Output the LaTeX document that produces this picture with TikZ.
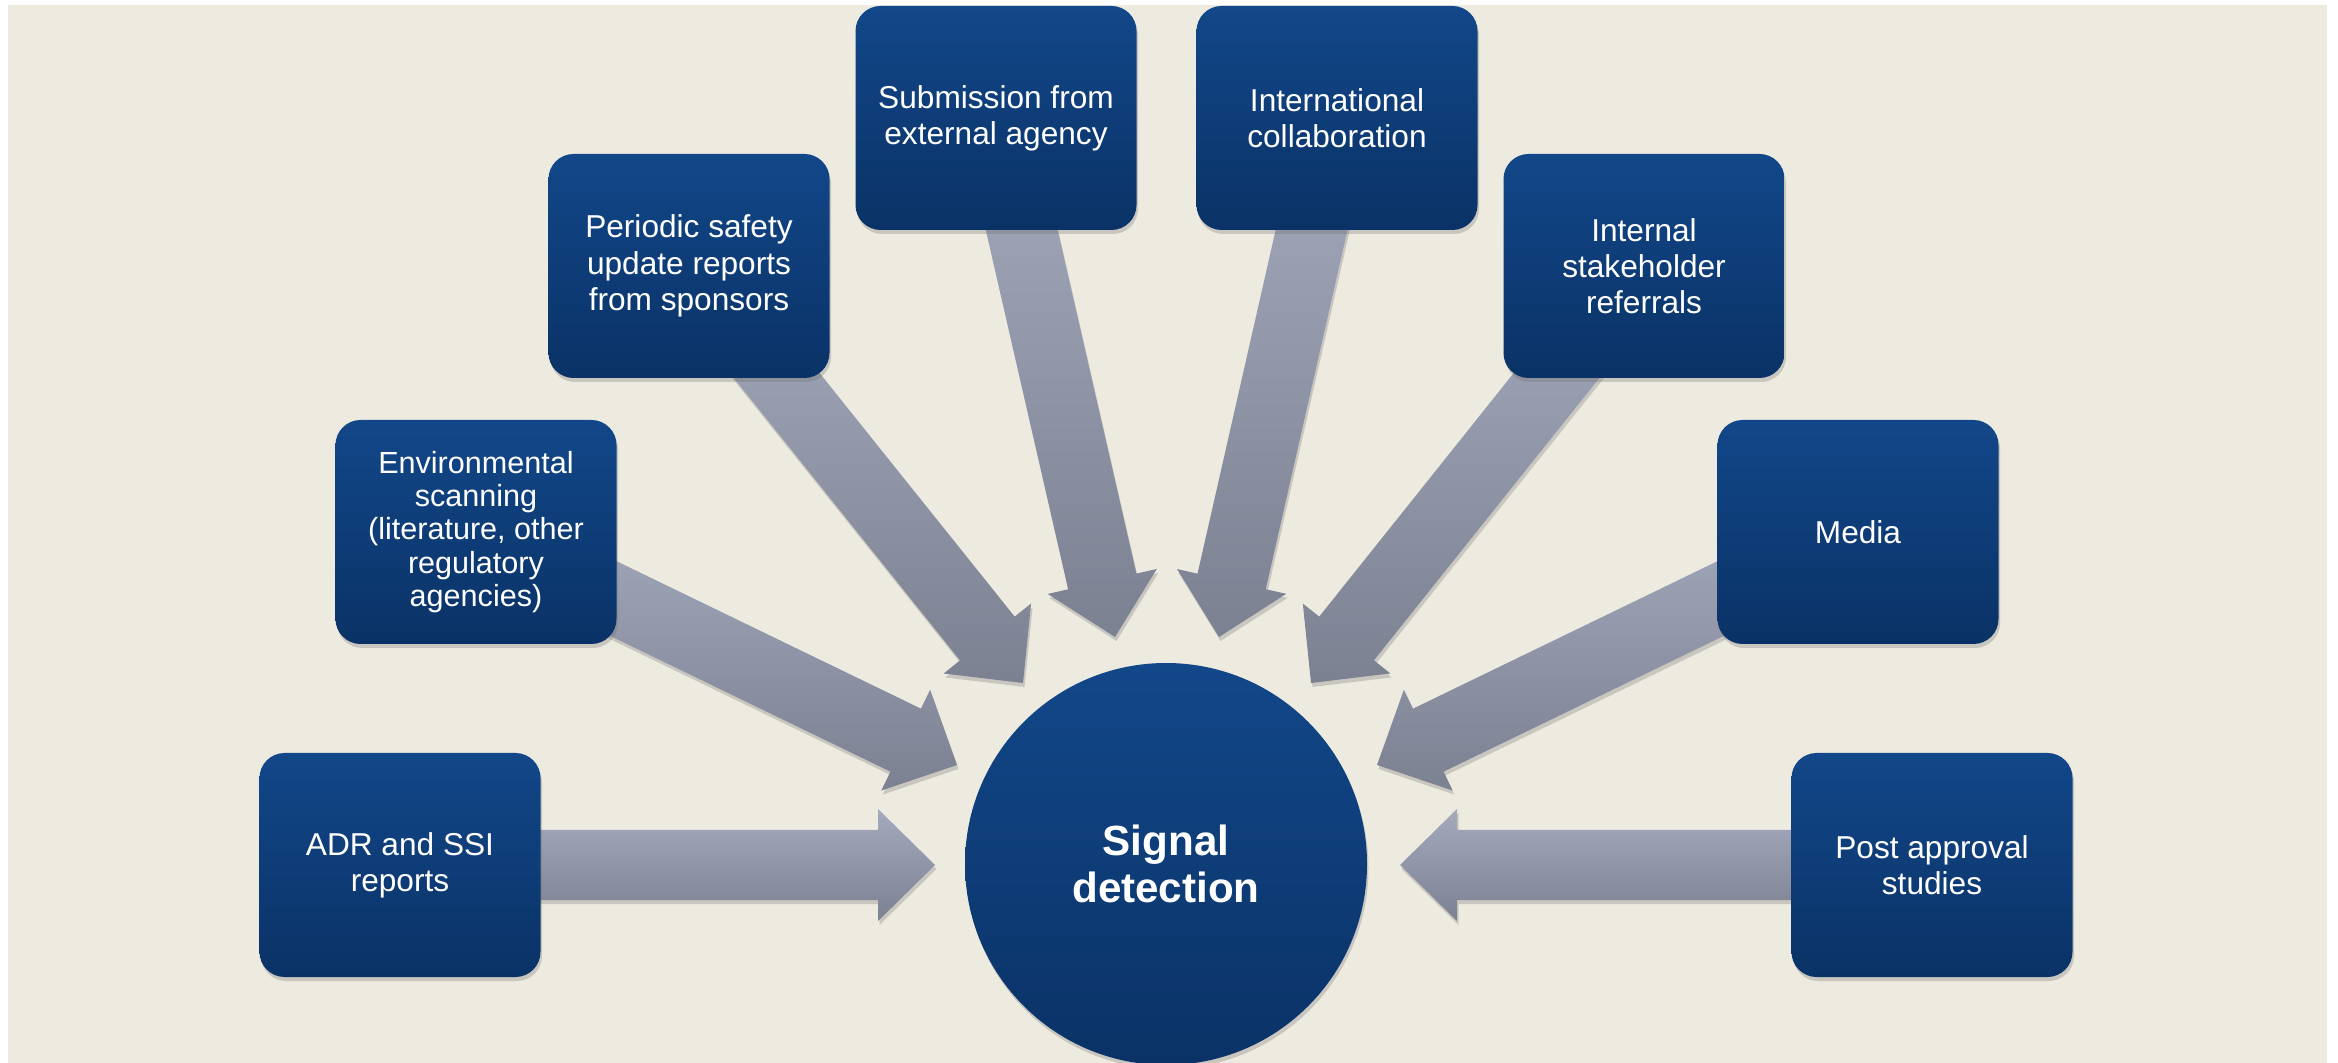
\documentclass[tikz,border=0pt]{standalone}
\usepackage{fontspec}
\setmainfont{Liberation Sans}
\usetikzlibrary{calc,shapes,shadows}
\definecolor{paper}{HTML}{EDEBE0}
\definecolor{boxtop}{HTML}{124789}
\definecolor{boxbot}{HTML}{0A3266}
\definecolor{arrtop}{HTML}{A5AABD}
\definecolor{arrbot}{HTML}{7B8191}
\pgfdeclarelayer{back}
\pgfdeclarelayer{arrows}
\pgfsetlayers{back,arrows,main}
\tikzstyle{shade}=[drop shadow={shadow xshift=0.015cm,shadow yshift=-0.04cm,fill=black!55,opacity=0.3}]
\tikzstyle{source}=[rectangle,rounded corners=0.25cm,minimum width=2.81cm,minimum height=2.24cm,
  top color=boxtop,bottom color=boxbot,text=white,align=center,
  font=\fontsize{9}{10.3}\selectfont,shade]
\tikzstyle{hub}=[circle,minimum size=4.02cm,inner sep=0pt,top color=boxtop,bottom color=boxbot,
  text=white,align=center,font=\fontsize{12}{13.6}\selectfont\bfseries,shade]
\tikzstyle{fat}=[top color=arrtop,bottom color=arrbot,shade,
  to path={let \p1=(\tikztostart), \p2=(\tikztotarget), \p3=($(\p2)!0.57cm!(\p1)$) in
    ($(\p1)!0.35cm!90:(\p2)$) -- ($(\p3)!0.35cm!90:(\p2)$) -- ($(\p3)!0.56cm!90:(\p2)$) -- (\p2)
    -- ($(\p3)!0.56cm!-90:(\p2)$) -- ($(\p3)!0.35cm!-90:(\p2)$) -- ($(\p1)!0.35cm!-90:(\p2)$) -- cycle}]

\begin{document}
\begin{tikzpicture}
  \useasboundingbox (0,0) rectangle (23.38,10.62);
  \begin{pgfonlayer}{back}
    \fill[white] (0,0) rectangle (23.38,10.62);
    \fill[paper] (0.08,-0.1) rectangle (23.27,10.57);
  \end{pgfonlayer}

  \node[hub] (sig) at (11.66,1.98) {Signal\\detection};

  \node[source] (adr) at (4.00,1.97) {ADR and SSI\\reports};
  \node[source,font=\fontsize{8.7}{9.5}\selectfont] (env) at (4.76,5.30) {Environmental\\scanning\\(literature, other\\regulatory\\agencies)};
  \node[source] (psur) at (6.89,7.96) {Periodic safety\\update reports\\from sponsors};
  \node[source] (sub) at (9.96,9.44) {Submission from\\external agency};
  \node[source] (intl) at (13.37,9.44) {International\\collaboration};
  \node[source] (isr) at (16.44,7.96) {Internal\\stakeholder\\referrals};
  \node[source] (media) at (18.58,5.30) {Media};
  \node[source] (post) at (19.32,1.97) {Post approval\\studies};

  % arrow tips in front of the circle
  \coordinate (tadr) at (9.35,1.97);
  \coordinate (tenv) at (9.57,2.97);
  \coordinate (tpsur) at (10.23,3.79);
  \coordinate (tsub) at (11.15,4.25);
  \coordinate (tintl) at (12.19,4.25);
  \coordinate (tisr) at (13.11,3.79);
  \coordinate (tmedia) at (13.77,2.97);
  \coordinate (tpost) at (14.00,1.97);

  \begin{pgfonlayer}{arrows}
    \path[fat] (adr.center) to (tadr);
    \path[fat] (env.center) to (tenv);
    \path[fat] (psur.center) to (tpsur);
    \path[fat] (sub.center) to (tsub);
    \path[fat] (intl.center) to (tintl);
    \path[fat] (isr.center) to (tisr);
    \path[fat] (media.center) to (tmedia);
    \path[fat] (post.center) to (tpost);
  \end{pgfonlayer}
\end{tikzpicture}
\end{document}
